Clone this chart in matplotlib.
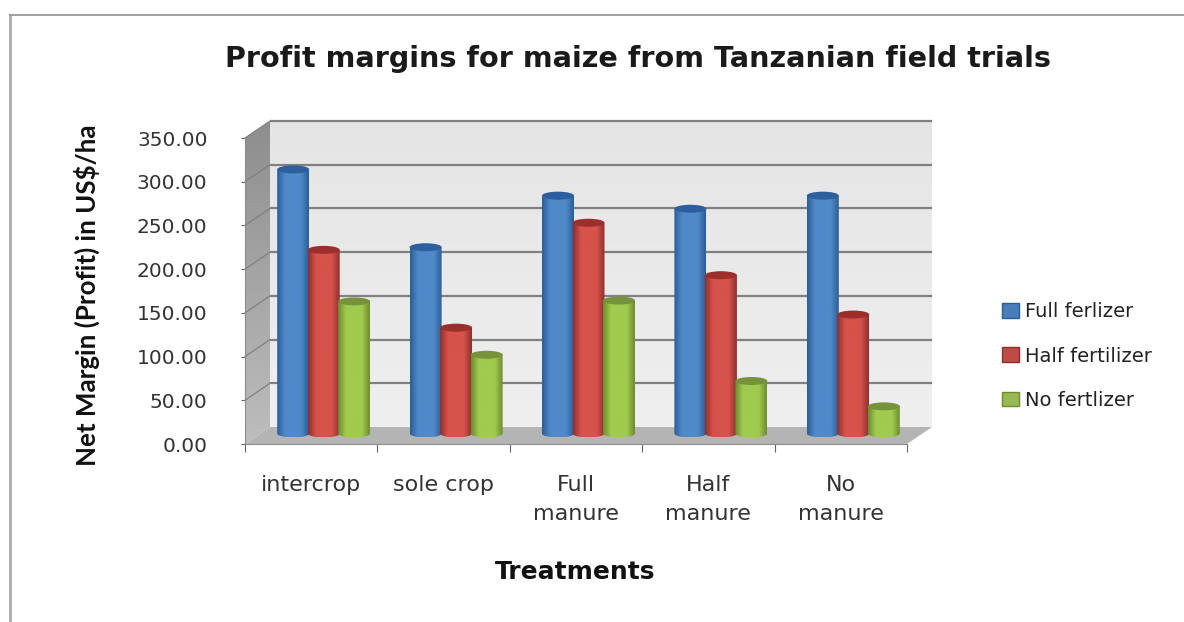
import numpy as np
import matplotlib
matplotlib.use("Agg")
from matplotlib import pyplot as plt
from matplotlib.colors import LinearSegmentedColormap
from matplotlib.lines import Line2D
from matplotlib.patches import Ellipse, Patch, Polygon

categories = ["intercrop", "sole crop", "Full\nmanure", "Half\nmanure", "No\nmanure"]
series_names = ["Full ferlizer", "Half fertilizer", "No fertlizer"]
full_fert = [302, 213, 272, 257, 272]
half_fert = [210, 121, 241, 181, 136]
no_fert = [151, 90, 152, 60, 31]
y_ticks = [0, 50, 100, 150, 200, 250, 300, 350]

# edge, centre, cap, legend colours for each series
shades = [("#2b5d96", "#5089c9", "#2d5f9f", "#4a7ebb"),
          ("#8e2f2c", "#d6534c", "#9c2e2b", "#be4b48"),
          ("#6d8c30", "#a0cb4f", "#76933c", "#98b954")]

W, H = 1184, 622
fig = plt.figure(figsize=(W / 100, H / 100), dpi=100)
ax = fig.add_axes([245 / W, 1 - 444 / H, 662 / W, 306 / H])
ax.patch.set_visible(False)
ax.set_xlim(0, 5)
ax.set_ylim(0, 350)

# size of the fake depth, in data units
px_x = 662 / 5
px_y = 306 / 350
dx = 25 / px_x
dy = 17 / px_y


def gradient(x0, y0, x1, y1, cols, vertical, z, clip):
    cmap = LinearSegmentedColormap.from_list("g", cols)
    g = np.linspace(0, 1, 128)
    g = g.reshape(-1, 1) if vertical else g.reshape(1, -1)
    im = ax.imshow(g, cmap=cmap, extent=(x0, x1, y0, y1), origin="lower",
                   aspect="auto", zorder=z, interpolation="bilinear")
    # images get cut at the axes box unless told otherwise
    im.set_clip_box(fig.bbox)
    im.set_clip_path(clip)
    clip.set_visible(False)


# back wall, side wall and floor
back = Polygon([(dx, dy), (5 + dx, dy), (5 + dx, 350 + dy), (dx, 350 + dy)], fill=False)
ax.add_patch(back)
gradient(dx, dy, 5 + dx, 350 + dy, ["#efefef", "#e5e5e5"], True, 1, back)
side = Polygon([(0, 0), (dx, dy), (dx, 350 + dy), (0, 350)], fill=False)
ax.add_patch(side)
gradient(0, 0, dx, 350 + dy, ["#bdbdbd", "#8e8e8e"], True, 1, side)
ax.add_patch(Polygon([(0, 0), (5, 0), (5 + dx, dy), (dx, dy)], fc="#b4b4b4",
                     ec="none", zorder=1, clip_on=False))

# gridlines run along the side wall and across the back
for v in y_ticks[1:]:
    ax.plot([dx, 5 + dx], [v + dy, v + dy], color="#808080", lw=1.6, zorder=2,
            clip_on=False, solid_capstyle="butt")
    ax.plot([0, dx], [v, v + dy], color="#7c7c7c", lw=0.8, zorder=2, clip_on=False)

# cylinders
bar_w = 32 / px_x
step = 30.5 / px_x
cap_h = 4 / px_y
t = np.linspace(np.pi, 2 * np.pi, 40)
for k, vals in enumerate([full_fert, half_fert, no_fert]):
    edge, mid, cap, _ = shades[k]
    for i, v in enumerate(vals):
        cx = i + 0.5 + (k - 1) * step + dx / 2
        base = 0.62 * dy
        top = base + v
        xs = cx + bar_w / 2 * np.cos(t)
        ys = base + cap_h * np.sin(t)
        pts = list(zip(xs, ys)) + [(cx + bar_w / 2, top), (cx - bar_w / 2, top)]
        body = Polygon(pts, fill=False)
        ax.add_patch(body)
        z = 3 + k + i * 3
        gradient(cx - bar_w / 2, base - cap_h, cx + bar_w / 2, top,
                 [edge, mid, mid, mid, edge], False, z, body)
        ax.add_patch(Ellipse((cx, top), bar_w, cap_h * 2, fc=cap, ec="none",
                             zorder=z + 0.5, clip_on=False))

ax.set_xlim(0, 5)
ax.set_ylim(0, 350)

# axes, ticks and labels
for s in ["top", "right"]:
    ax.spines[s].set_visible(False)
for s in ["left", "bottom"]:
    ax.spines[s].set_color("#8c8c8c")
    ax.spines[s].set_zorder(2)
ax.set_yticks(y_ticks)
ax.set_yticklabels(["%.2f" % v for v in y_ticks], fontsize=14.5, color="#333333")
ax.set_xticks(range(6))
ax.set_xticklabels([])
ax.set_xticks(np.arange(5) + 0.5, categories, minor=True, fontsize=16, color="#333333",
              linespacing=1.6)
ax.tick_params(axis="x", which="minor", length=0, pad=22)
ax.tick_params(axis="x", which="major", length=6, color="#666666")
ax.tick_params(axis="y", length=3, color="#666666", pad=24)

fig.text(638 / W, 1 - 59 / H, "Profit margins for maize from Tanzanian field trials",
         ha="center", va="center", fontsize=20.6, fontweight="bold", color="#1a1a1a")
fig.text(87 / W, 1 - 295 / H, "Net Margin (Profit) in US$/ha", rotation=90, ha="center",
         va="center", fontsize=18.6, fontweight="bold", family="Lato", color="#111111")
fig.text(575 / W, 1 - 572 / H, "Treatments", ha="center", va="center", fontsize=18,
         fontweight="bold", color="#111111")

handles = [Patch(fc=shades[k][3], ec=shades[k][0], label=series_names[k]) for k in range(3)]
fig.legend(handles=handles, loc="center left", bbox_to_anchor=(1002 / W, 1 - 356 / H),
           frameon=False, fontsize=14, labelspacing=1.3, handlelength=0.87,
           handleheight=0.77, handletextpad=0.32, borderpad=0, borderaxespad=0,
           labelcolor="#222222")

# frame around the chart area
fig.add_artist(Line2D([10 / W, 10 / W], [0, 1 - 15 / H], color="#aaaaaa", lw=2))
fig.add_artist(Line2D([10 / W, 1], [1 - 15 / H, 1 - 15 / H], color="#999999", lw=1.3))

fig.savefig("out.png", dpi=100)
